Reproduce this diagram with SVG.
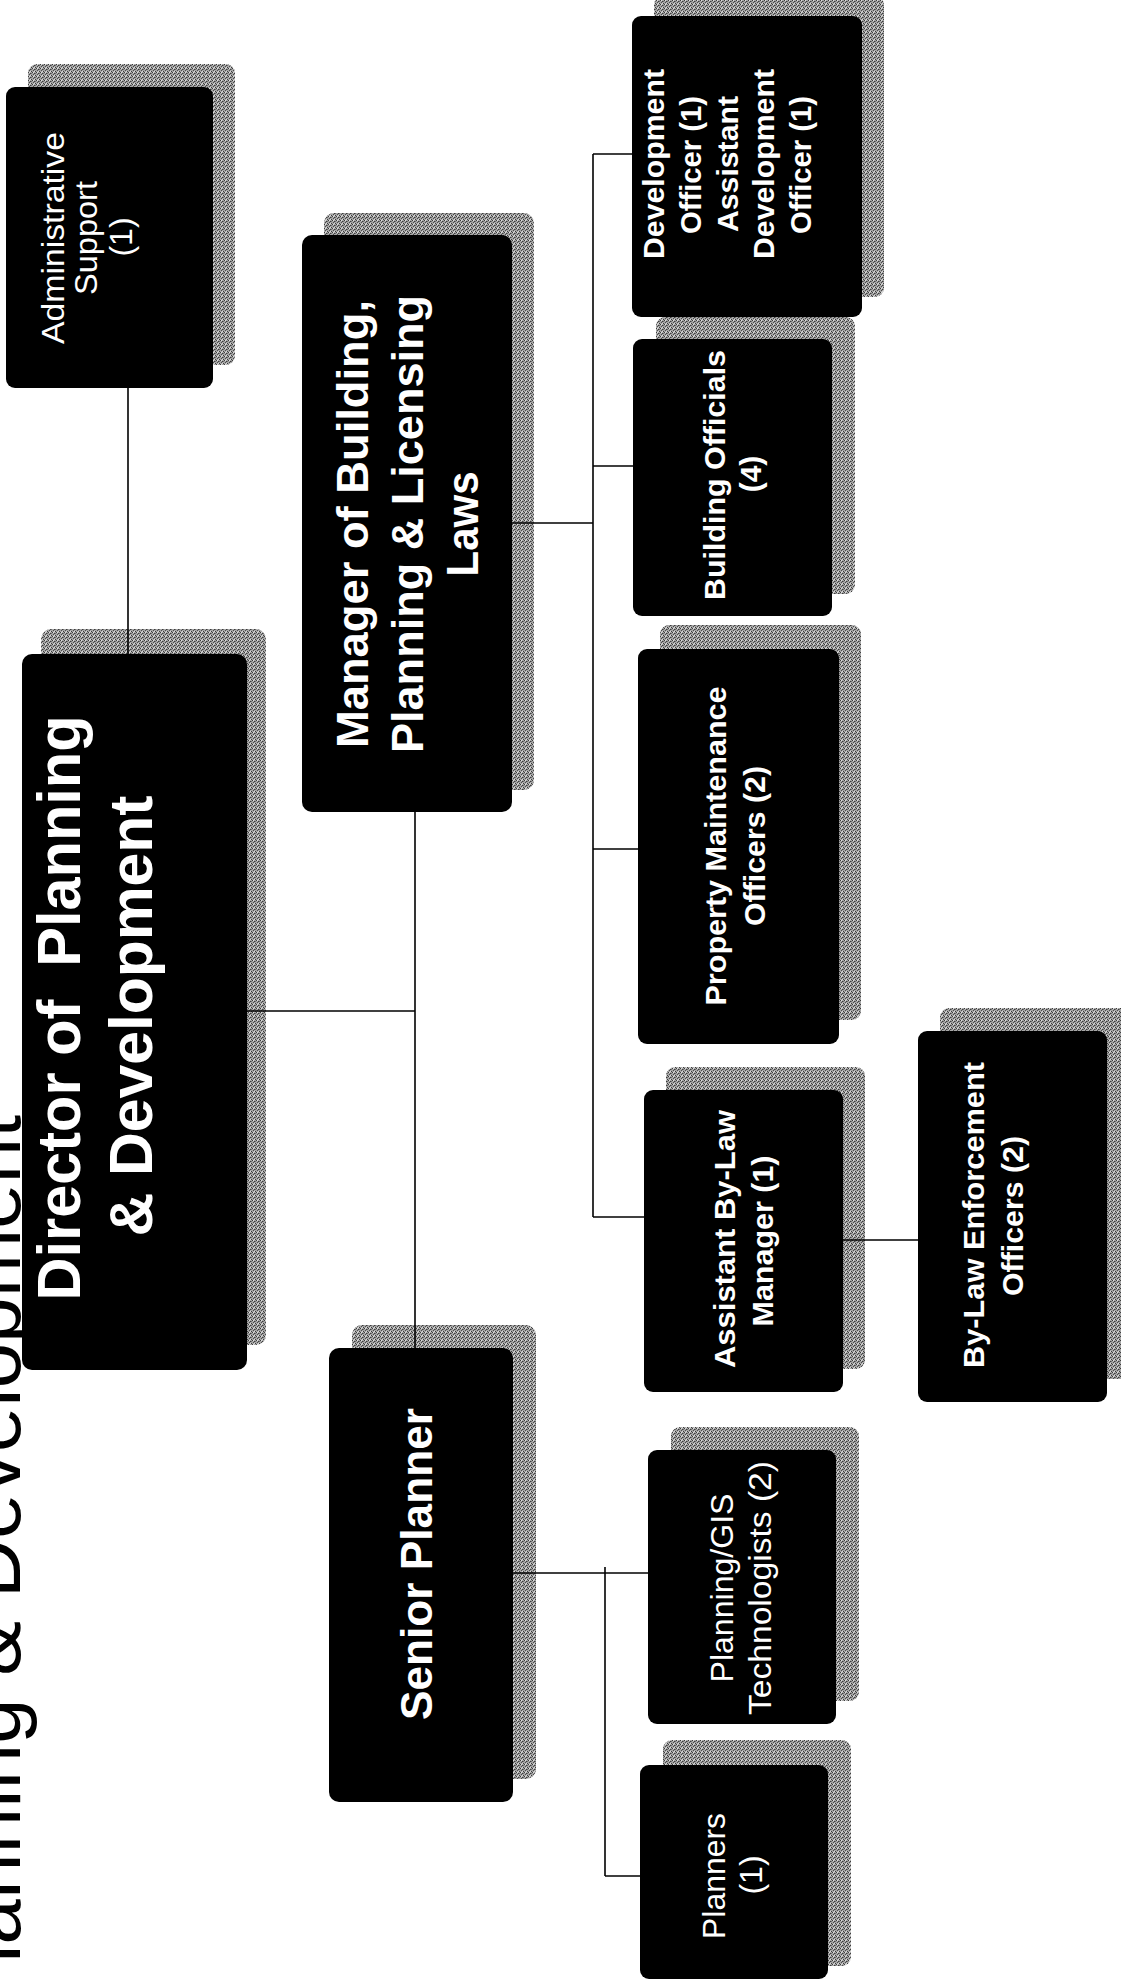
<svg xmlns="http://www.w3.org/2000/svg" width="1121" height="1982" viewBox="0 0 1121 1982">
<style>
.box{fill:#000}
.sh{fill:url(#dither)}
.t{fill:#fff;font-family:"Liberation Sans",Arial,sans-serif;text-anchor:middle}
.b{font-weight:bold}
.title{fill:#000;font-family:"Liberation Sans",Arial,sans-serif;font-size:82px;text-anchor:end}
.conn{stroke:#000;stroke-width:1.6;fill:none}
</style>
<defs>
<pattern id="dither" width="4" height="4" patternUnits="userSpaceOnUse">
<rect width="4" height="4" fill="#a6a6a6"/>
<rect x="0" y="0" width="1" height="1" fill="#3c3c3c"/>
<rect x="2" y="1" width="1" height="1" fill="#3c3c3c"/>
<rect x="1" y="2" width="1" height="1" fill="#4a4a4a"/>
<rect x="3" y="3" width="1" height="1" fill="#3c3c3c"/>
<rect x="3" y="1" width="1" height="1" fill="#707070"/>
<rect x="1" y="0" width="1" height="1" fill="#e0e0e0"/>
<rect x="2" y="3" width="1" height="1" fill="#d8d8d8"/>
</pattern>
</defs>
<rect width="1121" height="1982" fill="#fff"/>

<g id="title">
<text class="title" transform="translate(20,1115) rotate(-90)">Planning &amp; Development</text>
</g>

<g id="node-admin">
<rect class="sh" x="28" y="64" width="207" height="301" rx="9"/>
<rect class="box" x="6" y="87" width="207" height="301" rx="9"/>
<g class="t" font-size="32">
<text transform="translate(64,238) rotate(-90)" textLength="212" lengthAdjust="spacingAndGlyphs">Administrative</text>
<text transform="translate(97,238) rotate(-90)" textLength="114" lengthAdjust="spacingAndGlyphs">Support</text>
<text transform="translate(132,237) rotate(-90)">(1)</text>
</g>
</g>

<g id="node-director">
<rect class="sh" x="41" y="629" width="225" height="716" rx="10"/>
<rect class="box" x="22" y="654" width="225" height="716" rx="10"/>
<g class="t b" font-size="62">
<text transform="translate(80,1008) rotate(-90)" textLength="585" lengthAdjust="spacingAndGlyphs" xml:space="preserve">Director of  Planning</text>
<text transform="translate(152,1016) rotate(-90)" textLength="441" lengthAdjust="spacingAndGlyphs">&amp; Development</text>
</g>
</g>

<g id="node-manager">
<rect class="sh" x="324" y="213" width="210" height="577" rx="10"/>
<rect class="box" x="302" y="235" width="210" height="577" rx="10"/>
<g class="t b" font-size="44">
<text transform="translate(368,524) rotate(-90)" textLength="448" lengthAdjust="spacingAndGlyphs">Manager of Building,</text>
<text transform="translate(423,524) rotate(-90)" textLength="458" lengthAdjust="spacingAndGlyphs">Planning &amp; Licensing</text>
<text transform="translate(478,524) rotate(-90)" textLength="105" lengthAdjust="spacingAndGlyphs">Laws</text>
</g>
</g>

<g id="node-senior-planner">
<rect class="sh" x="352" y="1325" width="184" height="454" rx="10"/>
<rect class="box" x="329" y="1348" width="184" height="454" rx="10"/>
<g class="t b" font-size="44">
<text transform="translate(432,1564) rotate(-90)" textLength="312" lengthAdjust="spacingAndGlyphs">Senior Planner</text>
</g>
</g>

<g id="node-development-officer">
<rect class="sh" x="654" y="-4" width="230" height="301" rx="9"/>
<rect class="box" x="632" y="16" width="230" height="301" rx="9"/>
<g class="t b" font-size="29">
<text transform="translate(664,164) rotate(-90)" textLength="190" lengthAdjust="spacingAndGlyphs">Development</text>
<text transform="translate(701,165) rotate(-90)" textLength="138" lengthAdjust="spacingAndGlyphs">Officer (1)</text>
<text transform="translate(738,164) rotate(-90)" textLength="136" lengthAdjust="spacingAndGlyphs">Assistant</text>
<text transform="translate(774,164) rotate(-90)" textLength="190" lengthAdjust="spacingAndGlyphs">Development</text>
<text transform="translate(811,165) rotate(-90)" textLength="138" lengthAdjust="spacingAndGlyphs">Officer (1)</text>
</g>
</g>

<g id="node-building-officials">
<rect class="sh" x="656" y="317" width="199" height="277" rx="9"/>
<rect class="box" x="633" y="339" width="199" height="277" rx="9"/>
<g class="t b" font-size="30">
<text transform="translate(725,475) rotate(-90)" textLength="250" lengthAdjust="spacingAndGlyphs">Building Officials</text>
<text transform="translate(761,474) rotate(-90)">(4)</text>
</g>
</g>

<g id="node-property-maintenance">
<rect class="sh" x="660" y="625" width="201" height="395" rx="9"/>
<rect class="box" x="638" y="649" width="201" height="395" rx="9"/>
<g class="t b" font-size="30">
<text transform="translate(726,846) rotate(-90)" textLength="319" lengthAdjust="spacingAndGlyphs">Property Maintenance</text>
<text transform="translate(765,846) rotate(-90)" textLength="160" lengthAdjust="spacingAndGlyphs">Officers (2)</text>
</g>
</g>

<g id="node-assistant-bylaw">
<rect class="sh" x="666" y="1067" width="199" height="302" rx="9"/>
<rect class="box" x="644" y="1090" width="199" height="302" rx="9"/>
<g class="t b" font-size="30">
<text transform="translate(735,1239) rotate(-90)" textLength="258" lengthAdjust="spacingAndGlyphs">Assistant By-Law</text>
<text transform="translate(773,1241) rotate(-90)" textLength="171" lengthAdjust="spacingAndGlyphs">Manager (1)</text>
</g>
</g>

<g id="node-bylaw-enforcement">
<rect class="sh" x="940" y="1008" width="189" height="371" rx="9"/>
<rect class="box" x="918" y="1031" width="189" height="371" rx="9"/>
<g class="t b" font-size="30">
<text transform="translate(984,1215) rotate(-90)" textLength="306" lengthAdjust="spacingAndGlyphs">By-Law Enforcement</text>
<text transform="translate(1023,1216) rotate(-90)" textLength="160" lengthAdjust="spacingAndGlyphs">Officers (2)</text>
</g>
</g>

<g id="node-planning-gis">
<rect class="sh" x="671" y="1427" width="188" height="274" rx="9"/>
<rect class="box" x="648" y="1450" width="188" height="274" rx="9"/>
<g class="t" font-size="32">
<text transform="translate(733,1588) rotate(-90)" textLength="189" lengthAdjust="spacingAndGlyphs">Planning/GIS</text>
<text transform="translate(771,1588) rotate(-90)" textLength="254" lengthAdjust="spacingAndGlyphs">Technologists (2)</text>
</g>
</g>

<g id="node-planners">
<rect class="sh" x="663" y="1740" width="188" height="226" rx="9"/>
<rect class="box" x="640" y="1765" width="188" height="214" rx="9"/>
<g class="t" font-size="32">
<text transform="translate(725,1876) rotate(-90)" textLength="126" lengthAdjust="spacingAndGlyphs">Planners</text>
<text transform="translate(762,1875) rotate(-90)">(1)</text>
</g>
</g>

<g id="connectors" class="conn">
<line x1="128" y1="388" x2="128" y2="654"/>
<line x1="247" y1="1011" x2="415" y2="1011"/>
<line x1="415" y1="812" x2="415" y2="1348"/>
<line x1="512" y1="523" x2="593" y2="523"/>
<line x1="593" y1="154" x2="593" y2="1217"/>
<line x1="593" y1="154" x2="632" y2="154"/>
<line x1="593" y1="466" x2="633" y2="466"/>
<line x1="593" y1="849" x2="638" y2="849"/>
<line x1="593" y1="1217" x2="644" y2="1217"/>
<line x1="843" y1="1240" x2="918" y2="1240"/>
<line x1="513" y1="1573" x2="648" y2="1573"/>
<line x1="605" y1="1567" x2="605" y2="1876"/>
<line x1="605" y1="1876" x2="640" y2="1876"/>
</g>
</svg>
